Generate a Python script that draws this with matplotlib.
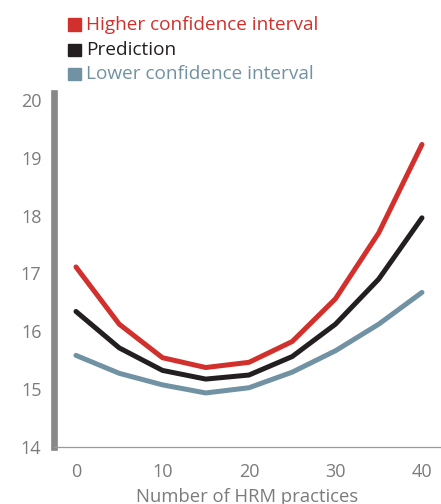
import matplotlib
matplotlib.use("Agg")
import matplotlib.pyplot as plt
from matplotlib.patches import Rectangle

practices = [0, 5, 10, 15, 20, 25, 30, 35, 40]
higher_ci = [17.11, 16.12, 15.54, 15.37, 15.46, 15.82, 16.56, 17.70, 19.23]
prediction = [16.34, 15.71, 15.32, 15.17, 15.24, 15.56, 16.12, 16.90, 17.96]
lower_ci = [15.58, 15.27, 15.07, 14.93, 15.02, 15.29, 15.66, 16.12, 16.67]
x_ticks = [0, 10, 20, 30, 40]
y_ticks = [14, 15, 16, 17, 18, 19, 20]
series_names = ["Higher confidence interval", "Prediction", "Lower confidence interval"]
colors = ["#d2302c", "#231f20", "#7192a3"]

plt.rcParams['font.family'] = ['Open Sans', 'DejaVu Sans']

W, H = 441, 504
fig = plt.figure(figsize=(W / 100, H / 100), dpi=100)
ax = fig.add_axes([54 / W, (H - 446.7) / H, (W - 54) / W, (446.7 - 93) / H])

for vals, c in zip([higher_ci, prediction, lower_ci], colors):
    ax.plot(practices, vals, color=c, lw=3.6, solid_capstyle='round', solid_joinstyle='round')

ax.set_xlim(-2.54, 42.2)
ax.set_ylim(14.10, 20.12)
ax.set_xticks(x_ticks)
ax.set_yticks(y_ticks)
ax.tick_params(length=0, labelsize=13, labelcolor="#7b7b7b")
ax.tick_params(axis='y', pad=9)
ax.tick_params(axis='x', pad=12)
for s in ['top', 'right']:
    ax.spines[s].set_visible(False)
ax.spines['left'].set_linewidth(4.8)
ax.spines['left'].set_color("#88888b")
ax.spines['bottom'].set_linewidth(0.9)
ax.spines['bottom'].set_color("#9a9a9a")
ax.set_xlabel("Number of HRM practices", fontsize=13.3, color="#7b7b7b", labelpad=5)

rows_y = [24.5, 50, 74]
for name, c, yy in zip(series_names, colors, rows_y):
    fig.patches.append(Rectangle((68 / W, (H - yy - 6.3) / H), 12.6 / W, 12.6 / H,
                                 transform=fig.transFigure, color=c, figure=fig))
    fig.text(86 / W, (H - yy) / H, name, color=c, fontsize=13.65, va='center', ha='left')

fig.savefig("out.png", dpi=100)
